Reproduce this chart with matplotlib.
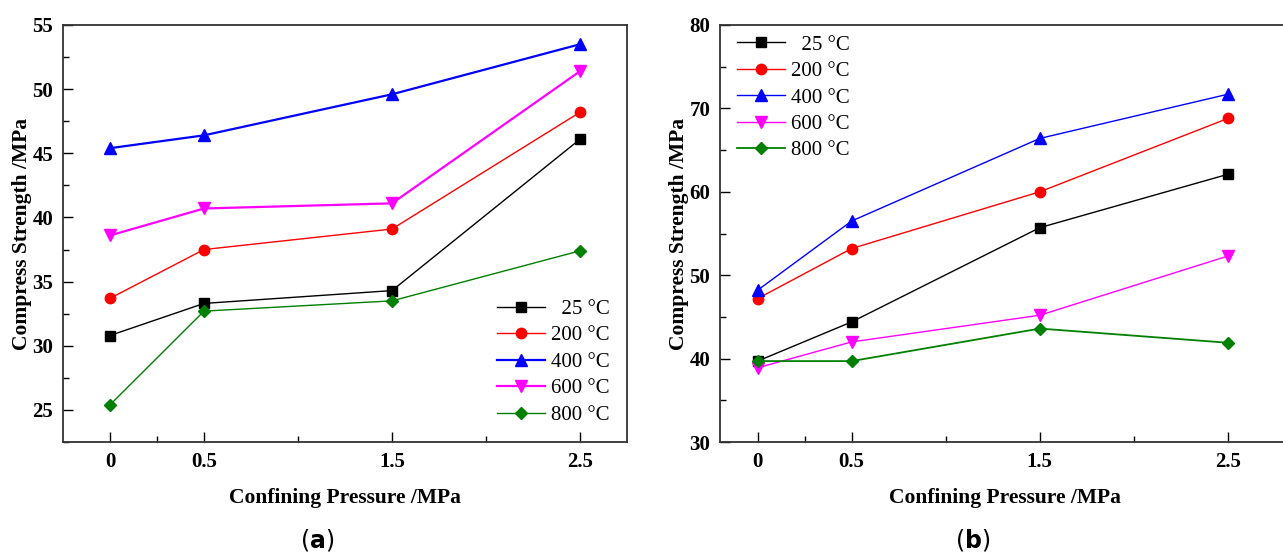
import matplotlib
matplotlib.use("Agg")
import matplotlib.pyplot as plt
from matplotlib.ticker import FixedLocator, MultipleLocator

plt.rcParams["font.family"] = ["Liberation Serif", "DejaVu Serif"]
plt.rcParams["mathtext.fontset"] = "custom"
plt.rcParams["mathtext.rm"] = "DejaVu Sans"
plt.rcParams["mathtext.bf"] = "DejaVu Sans:bold"

# data
pressure = [0, 0.5, 1.5, 2.5]
labels = ["  25 °C", "200 °C", "400 °C", "600 °C", "800 °C"]

strength_a = {
    "25": [30.8, 33.3, 34.3, 46.1],
    "200": [33.7, 37.5, 39.1, 48.2],
    "400": [45.4, 46.4, 49.6, 53.5],
    "600": [38.6, 40.7, 41.1, 51.4],
    "800": [25.4, 32.7, 33.5, 37.4],
}
strength_b = {
    "25": [39.7, 44.4, 55.7, 62.1],
    "200": [47.2, 53.2, 60.0, 68.8],
    "400": [48.2, 56.5, 66.4, 71.7],
    "600": [38.9, 42.0, 45.2, 52.3],
    "800": [39.7, 39.7, 43.6, 41.9],
}

colors = ["black", "#ff0000", "#0000ff", "#ff00ff", "#008000"]
markers = ["s", "o", "^", "v", "D"]
msizes = [7, 7.5, 8, 8, 6.5]

fig = plt.figure(figsize=(12.83, 5.54), dpi=100)
ax_a = fig.add_axes([63 / 1283, 1 - 442 / 554, 564 / 1283, 417 / 554])
ax_b = fig.add_axes([720 / 1283, 1 - 442 / 554, 570 / 1283, 417 / 554])


def draw(ax, data, lws):
    for i, key in enumerate(data):
        ax.plot(pressure, data[key], color=colors[i], marker=markers[i],
                markersize=msizes[i], lw=lws[i], label=labels[i])
    ax.set_xticks(pressure)
    ax.set_xticklabels(["0", "0.5", "1.5", "2.5"])
    ax.xaxis.set_minor_locator(FixedLocator([0.25, 1.0, 2.0]))
    ax.tick_params(which="both", direction="in", labelsize=15, pad=7,
                   top=False, right=False)
    ax.tick_params(which="major", length=7, width=1)
    ax.tick_params(which="minor", length=4, width=1)
    for lab in ax.get_xticklabels() + ax.get_yticklabels():
        lab.set_fontweight("bold")
    for sp in ax.spines.values():
        sp.set_linewidth(1.3)
        sp.set_color("#333333")
    ax.set_xlabel("Confining Pressure /MPa", fontsize=15.5, fontweight="bold", labelpad=12)
    ax.set_ylabel("Compress Strength /MPa", fontsize=15.5, fontweight="bold", labelpad=0)


legend_kw = dict(loc="upper left", frameon=False, fontsize=15, handlelength=2.3,
                 handletextpad=0.3, labelspacing=0.33, borderpad=0, borderaxespad=0)

draw(ax_a, strength_a, [1.0, 1.0, 1.6, 1.6, 1.0])
ax_a.set_xlim(-0.25, 2.75)
ax_a.set_ylim(22.5, 55)
ax_a.yaxis.set_major_locator(MultipleLocator(5))
ax_a.yaxis.set_minor_locator(MultipleLocator(2.5))
ax_a.legend(bbox_to_anchor=(0.77, 0.342), **legend_kw)

draw(ax_b, strength_b, [1.0, 1.0, 1.0, 1.0, 1.3])
ax_b.set_xlim(-0.2, 2.83)
ax_b.set_ylim(30, 80)
ax_b.yaxis.set_major_locator(MultipleLocator(10))
ax_b.yaxis.set_minor_locator(MultipleLocator(5))
ax_b.legend(bbox_to_anchor=(0.03, 0.976), **legend_kw)

fig.text(317 / 1283, 1 - 540 / 554, r"($\mathbf{a}$)", fontsize=17,
         ha="center", va="center", family="DejaVu Sans")
fig.text(973 / 1283, 1 - 540 / 554, r"($\mathbf{b}$)", fontsize=17,
         ha="center", va="center", family="DejaVu Sans")

fig.savefig("out.png", dpi=100)
